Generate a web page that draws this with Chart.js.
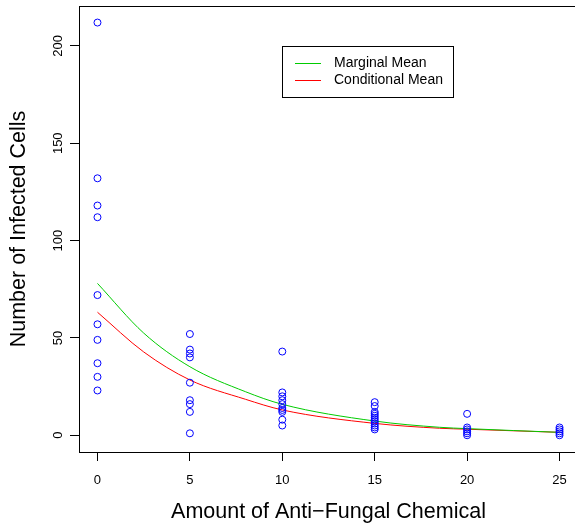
<!DOCTYPE html>
<html><head><meta charset="utf-8">
<script src="https://cdn.jsdelivr.net/npm/chart.js@4.4.1/dist/chart.umd.min.js"></script>
<style>html,body{margin:0;padding:0;overflow:hidden;background:#fff}#wrap{width:583px;height:524px}canvas{display:block}</style>
</head><body><div id="wrap"><canvas id="c" width="583" height="524" style="width:583px;height:524px"></canvas></div>
<script>
// ---- data ----
const doses = [0, 5, 10, 15, 20, 25];
const cellsAt0  = [212, 132, 118, 112, 72, 57, 49, 37, 30, 23];
const cellsAt5  = [52, 44, 42, 40, 27, 18, 16, 12, 1];
const cellsAt10 = [43, 22, 20, 18, 16, 14, 13, 12, 8, 5];
const cellsAt15 = [17, 15, 12, 11, 10, 9, 8, 7, 6, 5, 4, 3];
const cellsAt20 = [11, 4, 3, 2, 1, 0];
const cellsAt25 = [4, 3, 2, 1, 0];
const curveX = [0, 2.5, 5, 8, 10, 15, 18.5, 20, 25];
const marginalMean    = [78, 52.5, 35.2, 22.4, 15.9, 7.3, 4.1, 3.4, 1.5];
const conditionalMean = [63.2, 42.8, 28.4, 18.5, 13.0, 6.1, 3.6, 3.1, 1.5];
const xTicks = [0, 5, 10, 15, 20, 25];
const yTicks = [0, 50, 100, 150, 200];
const xLabel = 'Amount of Anti\u2212Fungal Chemical';
const yLabel = 'Number of Infected Cells';
const seriesNames = ['Marginal Mean', 'Conditional Mean'];
const seriesColors = ['#00CC00', '#FF0000'];

const groups = [cellsAt0, cellsAt5, cellsAt10, cellsAt15, cellsAt20, cellsAt25];
const pts = [];
groups.forEach((g, i) => g.forEach(v => pts.push({x: doses[i], y: v})));

const FONT = '"Liberation Sans", Arial, Helvetica, sans-serif';

const rStyle = {
  id: 'rStyle',
  afterDraw(chart) {
    const ctx = chart.ctx, a = chart.chartArea;
    const ys = chart.scales.y;
    ctx.save();
    ctx.strokeStyle = '#000'; ctx.lineWidth = 1;
    ctx.strokeRect(Math.round(a.left) + 0.5, Math.round(a.top) + 0.5,
                   Math.round(a.right - a.left), Math.round(a.bottom - a.top));
    // y tick labels, rotated like R
    ctx.fillStyle = '#000';
    ctx.font = '13px ' + FONT;
    ctx.textAlign = 'center'; ctx.textBaseline = 'middle';
    yTicks.forEach(v => {
      const y = ys.getPixelForValue(v);
      ctx.save(); ctx.translate(58, y); ctx.rotate(-Math.PI / 2);
      ctx.fillText(String(v), 0, 0); ctx.restore();
    });
    // axis titles
    ctx.font = '21.5px ' + FONT;
    ctx.textBaseline = 'alphabetic';
    ctx.fillText(xLabel, (a.left + a.right) / 2, 518);
    ctx.save(); ctx.translate(25, (a.top + a.bottom) / 2); ctx.rotate(-Math.PI / 2);
    ctx.fillText(yLabel, 0, 0); ctx.restore();
    // legend
    const lx = 282.5, ly = 46.5, lw = 171, lh = 51;
    ctx.fillStyle = '#fff'; ctx.fillRect(lx, ly, lw, lh);
    ctx.strokeStyle = '#000'; ctx.strokeRect(lx, ly, lw, lh);
    ctx.font = '14px ' + FONT; ctx.textAlign = 'left'; ctx.textBaseline = 'middle';
    [63.5, 80.5].forEach((yy, i) => {
      ctx.strokeStyle = seriesColors[i]; ctx.beginPath();
      ctx.moveTo(295, yy); ctx.lineTo(321, yy); ctx.stroke();
      ctx.fillStyle = '#000'; ctx.fillText(seriesNames[i], 334, yy);
    });
    ctx.restore();
  }
};

new Chart(document.getElementById('c'), {
  type: 'scatter',
  data: {
    datasets: [
      {label: 'Observed', data: pts, showLine: false, pointStyle: 'circle',
       pointRadius: 3.5, pointBorderWidth: 1, pointBorderColor: '#0000FF',
       pointBackgroundColor: 'rgba(0,0,0,0)'},
      {label: seriesNames[0], data: curveX.map((x, i) => ({x, y: marginalMean[i]})),
       showLine: true, pointRadius: 0, borderColor: seriesColors[0], borderWidth: 1,
       cubicInterpolationMode: 'monotone'},
      {label: seriesNames[1], data: curveX.map((x, i) => ({x, y: conditionalMean[i]})),
       showLine: true, pointRadius: 0, borderColor: seriesColors[1], borderWidth: 1,
       cubicInterpolationMode: 'monotone'}
    ]
  },
  options: {
    responsive: false, animation: false, devicePixelRatio: 1,
    layout: {padding: {top: 6, right: 2, left: 0, bottom: 0}},
    plugins: {legend: {display: false}, tooltip: {enabled: false}},
    scales: {
      x: {
        type: 'linear', min: -1, max: 26,
        afterBuildTicks: s => { s.ticks = xTicks.map(v => ({value: v})); },
        afterFit: s => { s.height = 72; s.paddingLeft = 0; s.paddingRight = 0; },
        grid: {drawOnChartArea: false, drawTicks: true, tickLength: 9, color: '#000'},
        border: {display: true, color: '#000'},
        ticks: {color: '#000', font: {family: FONT, size: 13}, padding: 12, maxRotation: 0}
      },
      y: {
        type: 'linear', min: -8.6, max: 220.5,
        afterBuildTicks: s => { s.ticks = yTicks.map(v => ({value: v})); },
        afterFit: s => { s.width = 79; s.paddingTop = 0; s.paddingBottom = 0; },
        grid: {drawOnChartArea: false, drawTicks: true, tickLength: 9, color: '#000'},
        border: {display: true, color: '#000'},
        ticks: {display: false}
      }
    }
  },
  plugins: [rStyle]
});
</script></body></html>
